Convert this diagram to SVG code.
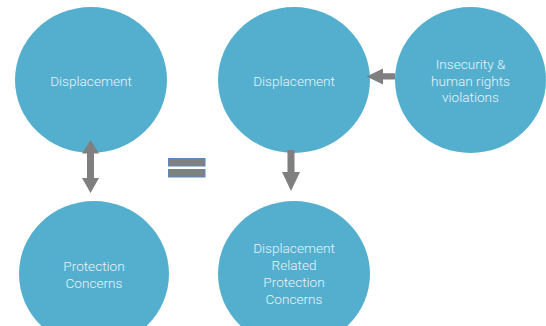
<svg xmlns="http://www.w3.org/2000/svg" width="546" height="326" viewBox="0 0 546 326">
<style>
.node ellipse{fill:#54afcf}
.node text{font-family:Roboto,"Liberation Sans",sans-serif;font-weight:300;font-size:13.6px;fill:#e6f3f8;text-anchor:middle}
.arrow{fill:#7f7f7f}
.eq{fill:#808080;stroke:#5b86c0;stroke-width:1}
</style>
<rect width="546" height="326" fill="#ffffff"/>
<g id="n1" class="node"><ellipse cx="91" cy="80" rx="76" ry="73"/><text x="91" y="85.5">Displacement</text></g>
<g id="n2" class="node"><ellipse cx="94" cy="274" rx="75" ry="73"/><text x="94" y="270.5">Protection</text><text x="94" y="287.5">Concerns</text></g>
<g id="n3" class="node"><ellipse cx="294" cy="80" rx="76" ry="73"/><text x="294" y="85.5">Displacement</text></g>
<g id="n4" class="node"><ellipse cx="294" cy="274" rx="76" ry="73"/><text x="294" y="253">Displacement</text><text x="294" y="269.5">Related</text><text x="294" y="287">Protection</text><text x="294" y="304">Concerns</text></g>
<g id="n5" class="node"><ellipse cx="470.5" cy="80" rx="75.5" ry="73"/><text x="470.5" y="68.5">Insecurity &amp;</text><text x="470.5" y="85.5">human rights</text><text x="470.5" y="102">violations</text></g>
<g id="connectors">
<polygon class="arrow" points="90.5,140 99,153.5 94,153.5 94,178 99,178 90.5,193 82,178 87,178 87,153.5 82,153.5"/>
<polygon class="arrow" points="287.5,150 294.5,150 294.5,172 300,172 291,191 282,172 287.5,172"/>
<polygon class="arrow" points="366.5,76.5 383,68.5 383,73.3 395,73.3 395,79.5 383,79.5 383,84.5"/>
</g>
<g id="equals">
<rect class="eq" x="168.5" y="158.5" width="36.5" height="7.5"/>
<rect class="eq" x="168.5" y="169.5" width="36.5" height="7.5"/>
</g>
</svg>
